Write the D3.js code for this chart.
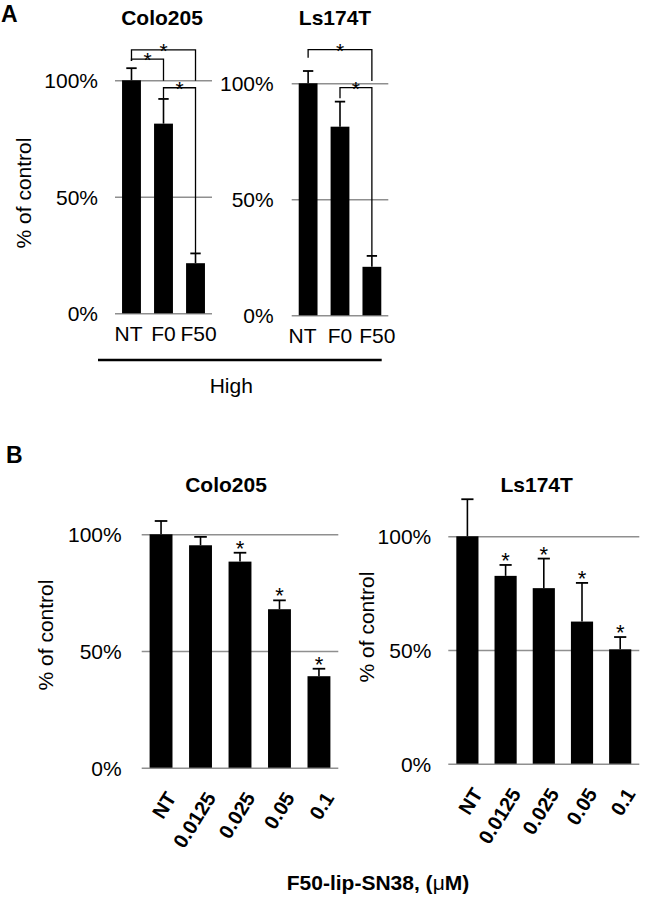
<!DOCTYPE html>
<html>
<head>
<meta charset="utf-8">
<script src="https://cdn.jsdelivr.net/npm/d3@7"></script>
<style>
  html, body { margin: 0; padding: 0; background: #fff; }
  svg { display: block; }
  text { font-family: "Liberation Sans", Arial, Helvetica, sans-serif; fill: #000; }
</style>
</head>
<body>
<script>
// ---------- data ----------
const yTicks = [0, 50, 100];

const aCategories = ["NT", "F0", "F50"];
const aColoValues = [100, 81.4, 21.5];
const aColoErrors = [5.2, 10.6, 4.2];
const aLsValues = [100, 81.3, 20.9];
const aLsErrors = [5.3, 10.8, 4.7];
const aColoBrackets = [
  { from: "NT", to: "F50", level: 113.1, fromEnd: 108.3, toEnd: 99.8 },
  { from: "NT", to: "F0", level: 109.1, fromEnd: 108.3, toEnd: 99.8 },
  { from: "F0", to: "F50", level: 96.8, fromEnd: 92.4, toEnd: 25.7 }
];
const aLsBrackets = [
  { from: "NT", to: "F50", level: 114.5, fromEnd: 111, toEnd: 101 },
  { from: "F0", to: "F50", level: 98.1, fromEnd: 93.6, toEnd: 25.6 }
];

const bCategories = ["NT", "0.0125", "0.025", "0.05", "0.1"];
const bColoValues = [100, 95.3, 88.3, 67.9, 39.2];
const bColoErrors = [5.7, 3.6, 3.8, 3.8, 3.2];
const bColoSig = [false, false, true, true, true];
const bLsValues = [100, 82.6, 77.2, 62.5, 50.3];
const bLsErrors = [16.3, 4.8, 13, 17, 5.4];
const bLsSig = [false, true, true, true, true];

// ---------- drawing ----------
const W = 663, H = 900;
const svg = d3.select("body").append("svg").attr("width", W).attr("height", H);

function panel(o) {
  const x = d3.scaleBand().domain(o.cats).range([o.x0, o.x1])
    .paddingInner(o.pi).paddingOuter(o.po);
  const y = d3.scaleLinear().domain([0, 100]).range([o.y0, o.y100]);
  const g = svg.append("g");

  // gridlines + y tick labels
  const ya = g.append("g").attr("transform", `translate(${o.x0},0)`)
    .call(d3.axisLeft(y).tickValues(yTicks).tickSize(-(o.x1 - o.x0))
      .tickPadding(o.tickGap).tickFormat(d => d + "%"));
  ya.select(".domain").remove();
  ya.selectAll(".tick line").attr("stroke", "#8f8f8f").attr("stroke-width", 1.5);
  ya.selectAll(".tick text").attr("font-size", 21).attr("fill", "#000")
    .attr("font-family", "Liberation Sans, Arial, sans-serif").attr("dy", "0.36em");

  const data = o.cats.map((c, i) => ({ c, v: o.values[i], e: o.errors[i], s: o.sig ? o.sig[i] : false }));

  // bars
  g.selectAll("rect.bar").data(data).enter().append("rect")
    .attr("class", "bar")
    .attr("x", d => x(d.c)).attr("width", x.bandwidth())
    .attr("y", d => y(d.v)).attr("height", d => y(0) - y(d.v))
    .attr("fill", "#000");

  // error bars
  const cap = x.bandwidth() * 0.55;
  const eb = g.selectAll("g.err").data(data).enter().append("g");
  eb.append("line")
    .attr("x1", d => x(d.c) + x.bandwidth() / 2).attr("x2", d => x(d.c) + x.bandwidth() / 2)
    .attr("y1", d => y(d.v)).attr("y2", d => y(d.v + d.e))
    .attr("stroke", "#000").attr("stroke-width", 1.6);
  eb.append("line")
    .attr("x1", d => x(d.c) + x.bandwidth() / 2 - cap / 2).attr("x2", d => x(d.c) + x.bandwidth() / 2 + cap / 2)
    .attr("y1", d => y(d.v + d.e)).attr("y2", d => y(d.v + d.e))
    .attr("stroke", "#000").attr("stroke-width", 1.8);

  // significance stars above error bars
  g.selectAll("text.star").data(data.filter(d => d.s)).enter().append("text")
    .attr("x", d => x(d.c) + x.bandwidth() / 2)
    .attr("y", d => y(d.v + d.e) + 3)
    .attr("text-anchor", "middle").attr("font-size", 22).text("*");

  // brackets
  if (o.brackets) {
    const cx = c => x(c) + x.bandwidth() / 2;
    o.brackets.forEach(b => {
      const path = d3.path();
      path.moveTo(cx(b.from), y(b.fromEnd));
      path.lineTo(cx(b.from), y(b.level));
      path.lineTo(cx(b.to), y(b.level));
      path.lineTo(cx(b.to), y(b.toEnd));
      g.append("path").attr("d", path.toString()).attr("fill", "none")
        .attr("stroke", "#000").attr("stroke-width", 1.3);
      g.append("text").attr("x", (cx(b.from) + cx(b.to)) / 2).attr("y", y(b.level) + 8)
        .attr("text-anchor", "middle").attr("font-size", 21).text("*");
    });
  }

  // x labels
  const xa = g.append("g").attr("transform", `translate(0,${o.y0})`)
    .call(d3.axisBottom(x).tickSize(0).tickPadding(0));
  xa.select(".domain").remove();
  const n = o.cats.length;
  if (o.rotate) {
    xa.selectAll(".tick text")
      .attr("font-size", 20).attr("font-weight", "bold").attr("fill", "#000")
      .attr("font-family", "Liberation Sans, Arial, sans-serif")
      .attr("text-anchor", "end").attr("dy", null).attr("y", null)
      .attr("transform", "translate(16,30) rotate(-58)");
  } else {
    xa.selectAll(".tick text")
      .attr("font-size", 21).attr("fill", "#000")
      .attr("font-family", "Liberation Sans, Arial, sans-serif")
      .attr("dy", null).attr("y", 28)
      .attr("x", (d, i) => (i - (n - 1) / 2) * o.spread);
  }

  // title
  svg.append("text").attr("x", o.titleX).attr("y", o.titleY).attr("text-anchor", "middle")
    .attr("font-size", 21).attr("font-weight", "bold").text(o.title);

  // y axis title
  if (o.ylabel) {
    svg.append("text").attr("transform", `translate(${o.ylabelX},${o.ylabelY}) rotate(-90)`)
      .attr("text-anchor", "middle").attr("font-size", 21).text("% of control");
  }
  return { x, y };
}

// Panel A
panel({ cats: aCategories, values: aColoValues, errors: aColoErrors, brackets: aColoBrackets,
  x0: 115, x1: 212, y0: 313.3, y100: 80.3, pi: 0.41, po: 0.22, tickGap: 17, spread: 3,
  title: "Colo205", titleX: 162, titleY: 25, ylabel: true, ylabelX: 31, ylabelY: 193 });
panel({ cats: aCategories, values: aLsValues, errors: aLsErrors, brackets: aLsBrackets,
  x0: 291.7, x1: 388.3, y0: 315.3, y100: 83.3, pi: 0.41, po: 0.22, tickGap: 18, spread: 5.5,
  title: "Ls174T", titleX: 335, titleY: 25, ylabel: false });

// Panel B
panel({ cats: bCategories, values: bColoValues, errors: bColoErrors, sig: bColoSig,
  x0: 141.7, x1: 338.3, y0: 767.7, y100: 534.3, pi: 0.42, po: 0.2, tickGap: 20, rotate: true,
  title: "Colo205", titleX: 226, titleY: 491.5, ylabel: true, ylabelX: 53, ylabelY: 635 });
panel({ cats: bCategories, values: bLsValues, errors: bLsErrors, sig: bLsSig,
  x0: 448.3, x1: 639.3, y0: 763.7, y100: 536.3, pi: 0.42, po: 0.21, tickGap: 17, rotate: true,
  title: "Ls174T", titleX: 536.7, titleY: 491.5, ylabel: true, ylabelX: 374, ylabelY: 627 });

// panel letters
svg.append("text").attr("x", 1).attr("y", 22).attr("font-size", 23).attr("font-weight", "bold").text("A");
svg.append("text").attr("x", 6).attr("y", 463).attr("font-size", 23).attr("font-weight", "bold").text("B");

// "High" group line
svg.append("line").attr("x1", 98).attr("x2", 381.7).attr("y1", 360).attr("y2", 360)
  .attr("stroke", "#000").attr("stroke-width", 2.5);
svg.append("text").attr("x", 231.3).attr("y", 393).attr("text-anchor", "middle")
  .attr("font-size", 21).text("High");

// B x-axis title
const bt = svg.append("text").attr("x", 378).attr("y", 890).attr("text-anchor", "middle")
  .attr("font-size", 21).attr("font-weight", "bold");
bt.append("tspan").text("F50-lip-SN38, (");
bt.append("tspan").attr("font-weight", "normal").text("μ");
bt.append("tspan").text("M)");
</script>
</body>
</html>
